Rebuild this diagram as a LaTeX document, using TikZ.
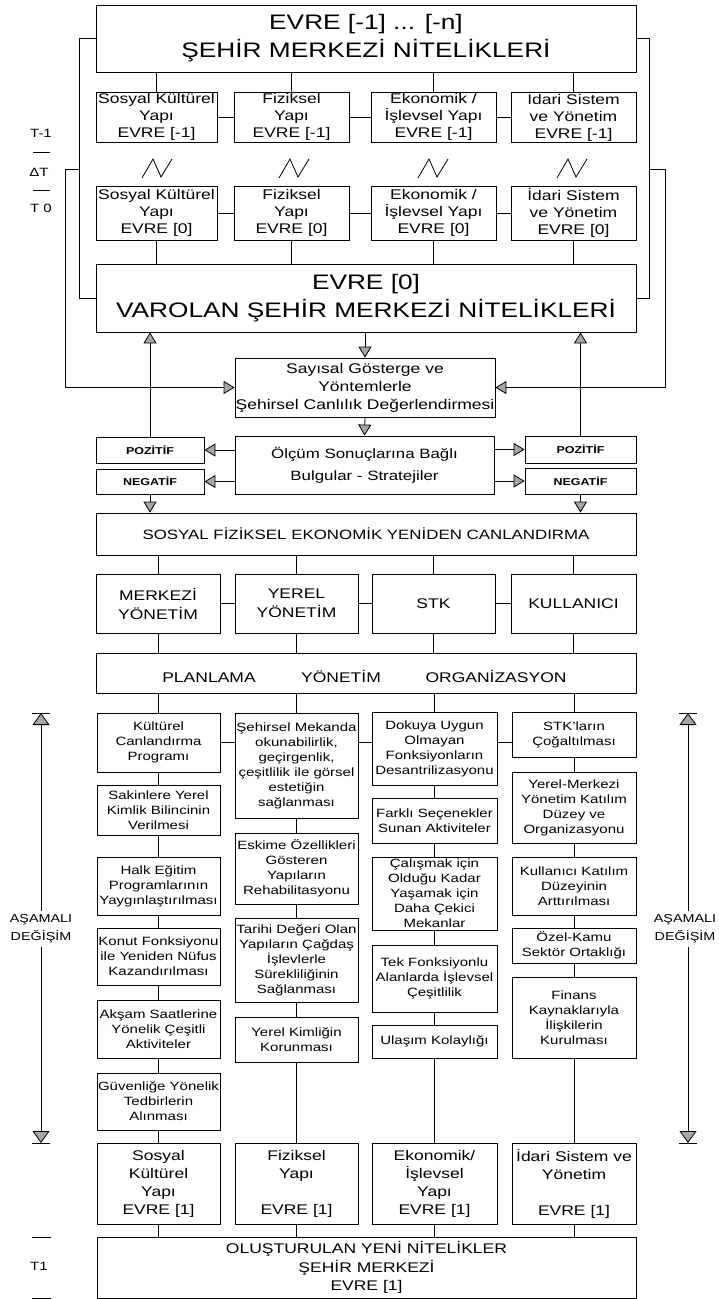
\documentclass[tikz,border=0pt]{standalone}
\usepackage{fontspec}
\setmainfont{Liberation Sans}[FakeStretch=1.25]
\usetikzlibrary{arrows.meta}
\newcommand{\mybox}[7][]{\node[bx,#1,minimum width={#4-#3},minimum height={#6-#5}] (#2) at ({(#3+#4)/2},{(#5+#6)/2}) {#7};}
\newcommand{\zigzag}[1]{\draw[ln] (#1-15,178) -- (#1-4,159) -- (#1+4,177) -- (#1+15,159);}
\begin{document}
\begin{tikzpicture}[x=1pt,y=-1pt,
  every node/.style={inner sep=0pt,text=black},
  bx/.style={draw,line width=0.8pt,align=center},
  ln/.style={line width=0.8pt},
  tri/.style={line width=0.8pt,-{Triangle[length=11pt,width=13pt,fill=gray!70]}},
  tribig/.style={line width=0.8pt,-{Triangle[length=12pt,width=17pt,fill=gray!70]}},
  fT/.style={font=\fontsize{21}{28}\selectfont},
  fM/.style={font=\fontsize{14}{16.7}\selectfont},
  fE/.style={font=\fontsize{14}{18}\selectfont},
  fS/.style={font=\fontsize{12}{15}\selectfont},
  fP/.style={font=\bfseries\fontsize{10}{12}\selectfont},
  fL/.style={font=\fontsize{11.5}{18}\selectfont,align=center,inner sep=4pt},
  fB/.style={font=\fontsize{14}{16}\selectfont,anchor=base},
]
\useasboundingbox (0,0) rectangle (719,1299);

% ---------- upper part ----------
\mybox[fT]{top}{96}{636}{5}{72}{EVRE [-1] ... [-n]\\ŞEHİR MERKEZİ NİTELİKLERİ}
\mybox[fM]{a1}{96}{217}{92}{142}{Sosyal Kültürel\\Yapı\\EVRE [-1]}
\mybox[fM]{a2}{234}{349}{92}{142}{Fiziksel\\Yapı\\EVRE [-1]}
\mybox[fM]{a3}{371}{496}{92}{142}{Ekonomik /\\İşlevsel Yapı\\EVRE [-1]}
\mybox[fM]{a4}{511}{636}{92}{142}{İdari Sistem\\ve Yönetim\\EVRE [-1]}
\mybox[fM]{b1}{96}{217}{186}{240}{Sosyal Kültürel\\Yapı\\EVRE [0]}
\mybox[fM]{b2}{234}{349}{186}{240}{Fiziksel\\Yapı\\EVRE [0]}
\mybox[fM]{b3}{371}{496}{186}{240}{Ekonomik /\\İşlevsel Yapı\\EVRE [0]}
\mybox[fM]{b4}{511}{636}{186}{240}{İdari Sistem\\ve Yönetim\\EVRE [0]}
\mybox[fT]{var}{96}{636}{264}{332}{EVRE [0]\\VAROLAN ŞEHİR MERKEZİ NİTELİKLERİ}

\foreach \p in {a1,a2,a3,a4} \draw[ln] (\p.north) -- (\p.north |- top.south);
\draw[ln] (a1.east) -- (a2.west);
\draw[ln] (a2.east) -- (a3.west);
\draw[ln] (a3.east) -- (a4.west);
\foreach \p in {b1,b2,b3,b4} \draw[ln] (\p.south) -- (\p.south |- var.north);
\draw[ln] (b1.east) -- (b2.west);
\draw[ln] (b2.east) -- (b3.west);
\draw[ln] (b3.east) -- (b4.west);
\zigzag{157}
\zigzag{294}
\zigzag{433}
\zigzag{572}

% time labels
\node[fS] (tm1) at (41,133) {T-1};
\node[fS] (dT) at (39,172) {ΔT};
\node[fS] (t0) at (41,208) {T 0};
\draw[ln] (33,152) -- (50,152);
\draw[ln] (33,190) -- (50,190);

% ---------- evaluation ----------
\mybox[fE]{say}{235}{495}{358}{417}{Sayısal Gösterge ve\\Yöntemlerle\\Şehirsel Canlılık Değerlendirmesi}
\mybox[font=\fontsize{13.5}{22}\selectfont]{olc}{235}{494}{436}{494}{Ölçüm Sonuçlarına Bağlı\\Bulgular - Stratejiler}
\mybox[fP]{pozL}{96}{204}{437}{463}{POZİTİF}
\mybox[fP]{negL}{96}{204}{469}{494}{NEGATİF}
\mybox[fP]{pozR}{525}{636}{436}{463}{POZİTİF}
\mybox[fP]{negR}{525}{636}{468}{494}{NEGATİF}

% feedback loops
\draw[ln] (top.west) -- ++(-16,0) |- (var.west);
\draw[ln] (top.east) -- ++(13,0) |- (var.east);
\coordinate (jl) at (80,169);
\coordinate (jr) at (649,169);
\draw[tri] (jl) -- ++(-15,0) |- (say.west);
\draw[tri] (jr) -- ++(16,0) |- (say.east);

\draw[tri] (var.south -| say.north) -- (say.north);
\draw[tri] (say.south) -- (olc.north);
\draw[tri] (olc.west |- pozL.east) -- (pozL.east);
\draw[tri] (olc.west |- negL.east) -- (negL.east);
\draw[tri] (olc.east |- pozR.west) -- (pozR.west);
\draw[tri] (olc.east |- negR.west) -- (negR.west);
\draw[tri] (pozL.north) -- (pozL.north |- var.south);
\draw[tri] (pozR.north) -- (pozR.north |- var.south);

% ---------- revitalisation ----------
\mybox[font=\fontsize{13.5}{16}\selectfont]{sos}{96}{636}{513}{555}{SOSYAL FİZİKSEL EKONOMİK YENİDEN CANLANDIRMA}
\draw[tri] (negL.south) -- (negL.south |- sos.north);
\draw[tri] (negR.south) -- (negR.south |- sos.north);

\mybox[font=\fontsize{14}{19}\selectfont]{m1}{96}{220}{574}{633}{MERKEZİ\\YÖNETİM}
\mybox[font=\fontsize{14}{19}\selectfont]{m2}{235}{358}{574}{633}{YEREL\\YÖNETİM}
\mybox[font=\fontsize{14}{19}\selectfont]{m3}{372}{495}{574}{633}{STK}
\mybox[font=\fontsize{14}{19}\selectfont]{m4}{511}{636}{574}{633}{KULLANICI}
\mybox{plan}{96}{636}{653}{693}{}
\node[fB] (p1) at (209,682) {PLANLAMA};
\node[fB] (p2) at (341,682) {YÖNETİM};
\node[fB] (p3) at (496,682) {ORGANİZASYON};

\foreach \p in {m1,m2,m3,m4} {
  \draw[ln] (\p.north) -- (\p.north |- sos.south);
  \draw[ln] (\p.south) -- (\p.south |- plan.north);
}
\draw[ln] (m1.east) -- (m2.west);
\draw[ln] (m2.east) -- (m3.west);
\draw[ln] (m3.east) -- (m4.west);

% ---------- columns ----------
\mybox[fS]{k11}{97}{220}{713}{772}{Kültürel\\Canlandırma\\Programı}
\mybox[fS]{k12}{97}{220}{785}{835}{Sakinlere Yerel\\Kimlik Bilincinin\\Verilmesi}
\mybox[fS]{k13}{97}{220}{857}{915}{Halk Eğitim\\Programlarının\\Yaygınlaştırılması}
\mybox[fS]{k14}{97}{220}{928}{985}{Konut Fonksiyonu\\ile Yeniden Nüfus\\Kazandırılması}
\mybox[fS]{k15}{97}{220}{1000}{1058}{Akşam Saatlerine\\Yönelik Çeşitli\\Aktiviteler}
\mybox[fS]{k16}{97}{220}{1073}{1130}{Güvenliğe Yönelik\\Tedbirlerin\\Alınması}

\mybox[fS]{k21}{235}{358}{713}{818}{Şehirsel Mekanda\\okunabilirlik,\\geçirgenlik,\\çeşitlilik ile görsel\\estetiğin\\sağlanması}
\mybox[fS]{k22}{235}{358}{833}{904}{Eskime Özellikleri\\Gösteren\\Yapıların\\Rehabilitasyonu}
\mybox[fS]{k23}{235}{358}{918}{1002}{Tarihi Değeri Olan\\Yapıların Çağdaş\\İşlevlerle\\Sürekliliğinin\\Sağlanması}
\mybox[fS]{k24}{235}{358}{1017}{1062}{Yerel Kimliğin\\Korunması}

\mybox[fS]{k31}{372}{497}{712}{785}{Dokuya Uygun\\Olmayan\\Fonksiyonların\\Desantrilizasyonu}
\mybox[fS]{k32}{372}{497}{798}{843}{Farklı Seçenekler\\Sunan Aktiviteler}
\mybox[fS]{k33}{372}{497}{857}{930}{Çalışmak için\\Olduğu Kadar\\Yaşamak için\\Daha Çekici\\Mekanlar}
\mybox[fS]{k34}{372}{497}{945}{1012}{Tek Fonksiyonlu\\Alanlarda İşlevsel\\Çeşitlilik}
\mybox[fS]{k35}{372}{497}{1025}{1058}{Ulaşım Kolaylığı}

\mybox[fS]{k41}{512}{636}{712}{757}{STK'ların\\Çoğaltılması}
\mybox[fS]{k42}{512}{636}{772}{843}{Yerel-Merkezi\\Yönetim Katılım\\Düzey ve\\Organizasyonu}
\mybox[fS]{k43}{512}{636}{857}{915}{Kullanıcı Katılım\\Düzeyinin\\Arttırılması}
\mybox[fS]{k44}{512}{636}{928}{963}{Özel-Kamu\\Sektör Ortaklığı}
\mybox[fS]{k45}{512}{636}{977}{1058}{Finans\\Kaynaklarıyla\\İlişkilerin\\Kurulması}

\mybox[fE]{e1}{97}{220}{1143}{1224}{Sosyal\\Kültürel\\Yapı\\EVRE [1]}
\mybox[fE]{e2}{235}{358}{1143}{1224}{Fiziksel\\Yapı\\~\\EVRE [1]}
\mybox[fE]{e3}{372}{497}{1143}{1224}{Ekonomik/\\İşlevsel\\Yapı\\EVRE [1]}
\mybox[fE]{e4}{512}{636}{1143}{1224}{İdari Sistem ve\\Yönetim\\~\\EVRE [1]}
\mybox[font=\fontsize{14}{18.5}\selectfont]{bot}{97}{636}{1237}{1298}{OLUŞTURULAN YENİ NİTELİKLER\\ŞEHİR MERKEZİ\\EVRE [1]}

\foreach \p in {k11,k21,k31,k41} \draw[ln] (\p.north) -- (\p.north |- plan.south);
\draw[ln] (k11.south) -- (k12.north);
\draw[ln] (k12.south) -- (k13.north);
\draw[ln] (k13.south) -- (k14.north);
\draw[ln] (k14.south) -- (k15.north);
\draw[ln] (k15.south) -- (k16.north);
\draw[ln] (k16.south) -- (e1.north);
\draw[ln] (k21.south) -- (k22.north);
\draw[ln] (k22.south) -- (k23.north);
\draw[ln] (k23.south) -- (k24.north);
\draw[ln] (k24.south) -- (e2.north);
\draw[ln] (k31.south) -- (k32.north);
\draw[ln] (k32.south) -- (k33.north);
\draw[ln] (k33.south) -- (k34.north);
\draw[ln] (k34.south) -- (k35.north);
\draw[ln] (k35.south) -- (e3.north);
\draw[ln] (k41.south) -- (k42.north);
\draw[ln] (k42.south) -- (k43.north);
\draw[ln] (k43.south) -- (k44.north);
\draw[ln] (k44.south) -- (k45.north);
\draw[ln] (k45.south) -- (e4.north);
\draw[ln] (k11.east) -- (k11.east -| k21.west);
\draw[ln] (k11.east -| k21.east) -- (k11.east -| k31.west);
\draw[ln] (k11.east -| k31.east) -- (k11.east -| k41.west);
\foreach \p in {e1,e2,e3,e4} \draw[ln] (\p.south) -- (\p.south |- bot.north);

% ---------- gradual change arrows ----------
\node[fL] (asL) at (41,929) {AŞAMALI\\DEĞİŞİM};
\node[fL] (asR) at (685,929) {AŞAMALI\\DEĞİŞİM};
\coordinate (asLt) at (41,713);
\coordinate (asLb) at (41,1143);
\coordinate (asRt) at (688,713);
\coordinate (asRb) at (688,1143);
\draw[tribig] (asL.north) -- (asLt);
\draw[tribig] (asL.south) -- (asLb);
\draw[tribig] (asR.north -| asRt) -- (asRt);
\draw[tribig] (asR.south -| asRb) -- (asRb);
\foreach \c in {asLt,asLb,asRt,asRb} \draw[ln] ([xshift=-9pt]\c) -- ([xshift=9pt]\c);

% bottom time label
\node[fS] (t1) at (39,1266) {T1};
\draw[ln] (32,1237) -- (51,1237);
\draw[ln] (32,1298) -- (51,1298);
\end{tikzpicture}
\end{document}
